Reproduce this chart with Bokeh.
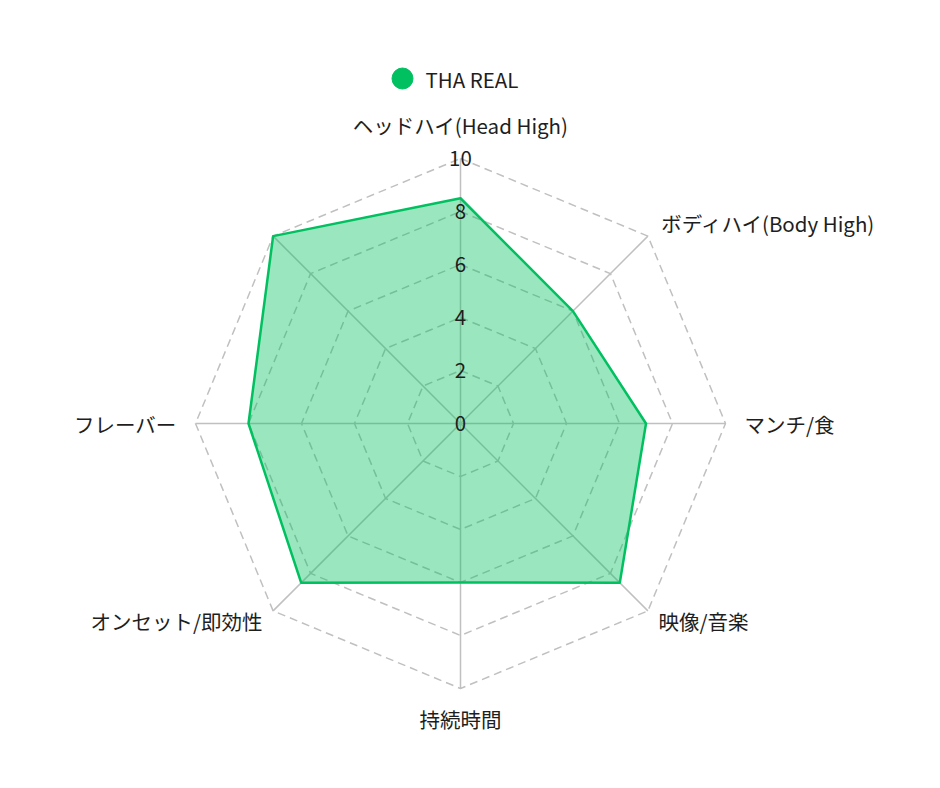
import numpy as np
from bokeh.plotting import figure
from bokeh.models import Range1d, ColumnDataSource
from bokeh.core.properties import value
from bokeh.embed import file_html
from bokeh.resources import INLINE

# data
axis_labels = ["ヘッドハイ(Head High)", "ボディハイ(Body High)", "マンチ/食", "映像/音楽",
               "持続時間", "オンセット/即効性", "フレーバー", ""]
series_name = "THA REAL"
series_values = [8.5, 6, 7, 8.5, 6, 8.5, 8, 10]
tick_values = [0, 2, 4, 6, 8, 10]
r_max = 10

FONT = value("Noto Sans CJK JP")
GREEN = "#00c060"
GRID = "#c0c0c0"
TEXT = "#1e1e1e"
FS = "20.5px"

W, H = 924, 772
cx, cy = 460, 423          # centre of the radar in canvas pixels
scale = 26.5               # pixels per unit

def to_data(px, py):
    return (px - cx) / scale, (cy - py) / scale

p = figure(width=W, height=H, output_backend="svg", toolbar_location=None,
           x_range=Range1d(-cx / scale, (W - cx) / scale),
           y_range=Range1d(-(H - cy) / scale, cy / scale),
           x_axis_type=None, y_axis_type=None, min_border=0)
p.grid.visible = False
p.outline_line_color = None
p.background_fill_color = "white"

n = len(axis_labels)
ang = np.pi / 2 - np.arange(n) * 2 * np.pi / n

# rings
for t in tick_values[1:]:
    xs = list(t * np.cos(ang)) + [t * np.cos(ang[0])]
    ys = list(t * np.sin(ang)) + [t * np.sin(ang[0])]
    p.line(xs, ys, line_color=GRID, line_width=1.5, line_dash="8 5")

# spokes
p.multi_line([[0, r_max * np.cos(a)] for a in ang], [[0, r_max * np.sin(a)] for a in ang],
             line_color=GRID, line_width=1.5)

# data polygon
vals = np.array(series_values)
src = ColumnDataSource(dict(x=[list(vals * np.cos(ang))], y=[list(vals * np.sin(ang))]))
p.patches("x", "y", source=src, fill_color=GREEN, fill_alpha=0.4,
          line_color=GREEN, line_width=2.5, line_join="round")

# tick labels
p.text(x=[0] * len(tick_values), y=tick_values, text=[str(t) for t in tick_values],
       text_font=FONT, text_font_size=FS, text_color=TEXT,
       text_align="center", text_baseline="middle")

# axis labels
lab_x, lab_y, aligns, bases = [], [], [], []
for a, lab in zip(ang, axis_labels):
    c, s = np.cos(a), np.sin(a)
    pad = 19 if s >= -0.1 else 15
    rr = r_max + pad / scale
    lab_x.append(rr * c)
    lab_y.append(rr * s)
    if abs(c) < 1e-6:
        aligns.append("center")
        bases.append("bottom" if s > 0 else "top")
    else:
        aligns.append("left" if c > 0 else "right")
        bases.append("middle")
p.text(x=lab_x, y=lab_y, text=axis_labels, text_font=FONT, text_font_size=FS,
       text_color=TEXT, text_align=aligns, text_baseline=bases)

# legend
lx, ly = to_data(402, 78)
p.scatter([lx], [ly], size=21, marker="circle", fill_color=GREEN, line_color=GREEN)
tx, ty = to_data(425, 78)
p.text([tx], [ty], text=[series_name], text_font=FONT, text_font_size=FS,
       text_color=TEXT, text_align="left", text_baseline="middle")

open("out.html", "w").write(file_html(p, INLINE))
